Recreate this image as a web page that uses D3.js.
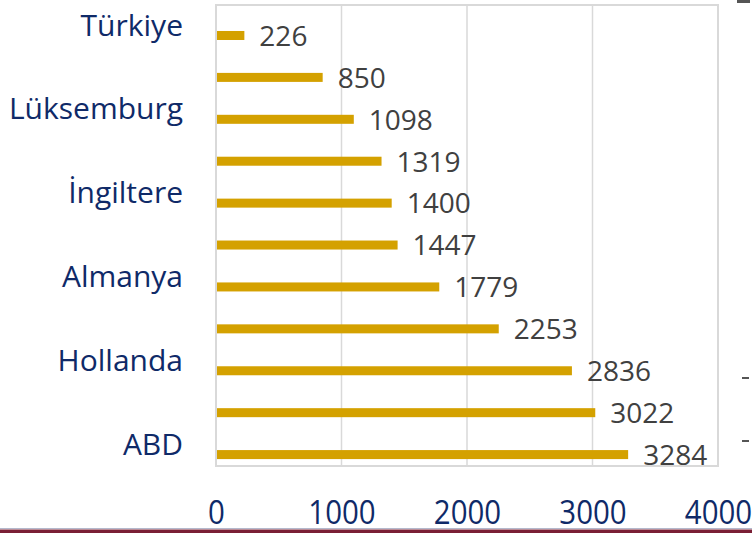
<!DOCTYPE html>
<html>
<head>
<meta charset="utf-8">
<script src="https://cdn.jsdelivr.net/npm/d3@7"></script>
<style>
  body { margin: 0; background: #fff; }
  svg { display: block; }
</style>
</head>
<body>
<div id="vis"></div>
<script>
// chart data (top to bottom)
const labels = ['Türkiye', '', 'Lüksemburg', '', 'İngiltere', '', 'Almanya', '', 'Hollanda', '', 'ABD']
const values = [226, 850, 1098, 1319, 1400, 1447, 1779, 2253, 2836, 3022, 3284]
const xTicks = [0, 1000, 2000, 3000, 4000]
const gridTicks = [1000, 2000, 3000]

const W = 752, H = 533
const margin = { top: 5, right: 34, bottom: 67, left: 216 }
const width = W - margin.left - margin.right
const height = H - margin.top - margin.bottom

const navy = '#0f2a68'
const gold = '#d4a100'
const grid = '#d9d9d9'
const font = '"Open Sans", "Noto Sans", sans-serif'

const svg = d3.select('#vis')
    .append('svg')
    .attr('width', W)
    .attr('height', H)

const g = svg.append('g')
    .attr('transform', `translate(${margin.left},${margin.top})`)

const xScale = d3.scaleLinear()
    .domain([0, 4000])
    .range([0, width])

const yScale = d3.scaleBand()
    .domain(d3.range(values.length))
    .range([0, height])
    .padding(0)

// gridlines
g.selectAll('.grid')
    .data(gridTicks)
    .join('line')
    .attr('class', 'grid')
    .attr('x1', d => xScale(d))
    .attr('x2', d => xScale(d))
    .attr('y1', 0)
    .attr('y2', height)
    .attr('stroke', grid)
    .attr('stroke-width', 1.5)

// plot frame
g.append('rect')
    .attr('x', 0)
    .attr('y', 0)
    .attr('width', width)
    .attr('height', height)
    .attr('fill', 'none')
    .attr('stroke', grid)
    .attr('stroke-width', 2)

// bars sit in the lower part of each band
const bw = yScale.bandwidth()
g.selectAll('.bar')
    .data(values)
    .join('rect')
    .attr('class', 'bar')
    .attr('x', xScale(0) + 1)
    .attr('y', (d, i) => yScale(i) + bw * 0.62)
    .attr('width', d => xScale(d) - xScale(0) - 1)
    .attr('height', bw * 0.215)
    .attr('fill', gold)

// value labels
g.selectAll('.val')
    .data(values)
    .join('text')
    .attr('class', 'val')
    .attr('x', d => xScale(d) + 15)
    .attr('y', (d, i) => yScale(i) + bw * 0.74)
    .attr('dy', '0.35em')
    .attr('fill', '#404040')
    .style('font-family', font)
    .style('font-size', '28px')
    .text(d => d)

// category axis
const yAxis = d3.axisLeft(yScale)
    .tickSize(0)
    .tickPadding(33)
    .tickFormat(i => labels[i])

g.append('g')
    .attr('class', 'axis')
    .call(yAxis)
    .call(a => a.select('.domain').remove())
    .selectAll('text')
    .attr('fill', navy)
    .style('font-family', font)
    .style('font-size', '30px')

// value axis (labels only)
const xAxis = d3.axisBottom(xScale)
    .tickValues(xTicks)
    .tickSize(0)
    .tickPadding(0)
    .tickFormat(d3.format('d'))

g.append('g')
    .attr('class', 'axis')
    .attr('transform', `translate(0,${height})`)
    .call(xAxis)
    .call(a => a.select('.domain').remove())
    .selectAll('text')
    .attr('y', 47)
    .attr('dy', '0.35em')
    .attr('transform', 'scale(0.92,1)')
    .attr('fill', navy)
    .style('font-family', font)
    .style('font-size', '32px')

// slide footer lines
svg.append('line')
    .attr('x1', 0).attr('x2', W)
    .attr('y1', 528.5).attr('y2', 528.5)
    .attr('stroke', '#b4b8cc')
    .attr('stroke-width', 1)
svg.append('rect')
    .attr('x', 0).attr('y', 529.5)
    .attr('width', W).attr('height', 4)
    .attr('fill', '#7a1f35')

// fragments of neighbouring text cut at the right edge
svg.append('rect').attr('x', 737).attr('y', 0).attr('width', 13).attr('height', 3).attr('fill', '#555')
svg.selectAll('.frag')
    .data([377, 440])
    .join('rect')
    .attr('class', 'frag')
    .attr('x', 742).attr('y', d => d)
    .attr('width', 7).attr('height', 2)
    .attr('fill', '#555')
</script>
</body>
</html>
